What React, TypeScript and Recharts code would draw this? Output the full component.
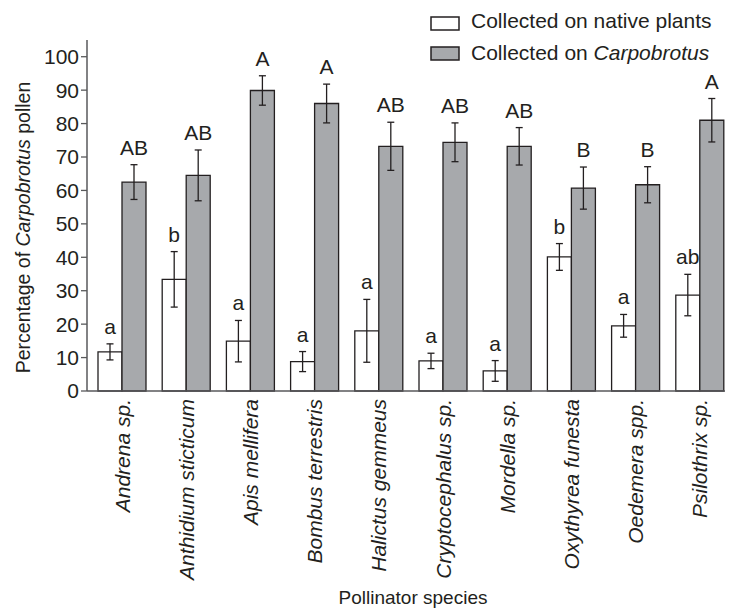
import { BarChart, Bar, XAxis, YAxis, ErrorBar, LabelList, Label } from 'recharts';

const species = [
  'Andrena sp.',
  'Anthidium sticticum',
  'Apis mellifera',
  'Bombus terrestris',
  'Halictus gemmeus',
  'Cryptocephalus sp.',
  'Mordella sp.',
  'Oxythyrea funesta',
  'Oedemera spp.',
  'Psilothrix sp.',
];
const nativeMean = [11.7, 33.4, 14.9, 8.8, 18.0, 9.0, 6.0, 40.1, 19.5, 28.7];
const nativeErr = [2.4, 8.3, 6.2, 3.0, 9.4, 2.3, 3.1, 4.0, 3.4, 6.2];
const nativeLetters = ['a', 'b', 'a', 'a', 'a', 'a', 'a', 'b', 'a', 'ab'];
const carpoMean = [62.5, 64.5, 89.9, 86.0, 73.2, 74.4, 73.2, 60.7, 61.7, 81.0];
const carpoErr = [5.2, 7.6, 4.4, 5.8, 7.2, 5.8, 5.6, 6.3, 5.4, 6.5];
const carpoLetters = ['AB', 'AB', 'A', 'A', 'AB', 'AB', 'AB', 'B', 'B', 'A'];
const yTicks = [0, 10, 20, 30, 40, 50, 60, 70, 80, 90, 100];

const data = species.map((name, i) => ({
  name,
  native: nativeMean[i],
  nativeErr: nativeErr[i],
  nativeLetter: nativeLetters[i],
  carpo: carpoMean[i],
  carpoErr: carpoErr[i],
  carpoLetter: carpoLetters[i],
}));

const ink = '#231f20';
const axisInk = '#58595b';
const grey = '#a7a9ac';
const font = 'Liberation Sans, Arial, Helvetica, sans-serif';

// letter sits just above the top of the error bar
const letterLabel = (means: number[], errs: number[]) => (props: any) => {
  const vb = props.viewBox || props;
  const { x, y, width, height } = vb;
  const i = props.index;
  const pxPerUnit = height / means[i];
  const top = y - errs[i] * pxPerUnit;
  return (
    <text x={x + width / 2} y={top - 10} textAnchor="middle" fontSize={21} fontFamily={font} fill={ink}>
      {props.value}
    </text>
  );
};

const SpeciesTick = (props: any) => {
  const { x, y, payload } = props;
  return (
    <g transform={`translate(${x},${y}) rotate(-90)`}>
      <text textAnchor="end" dy="0.36em" fontSize={21} fontStyle="italic" fontFamily={font} fill={ink}>
        {payload.value}
      </text>
    </g>
  );
};

// legend drawn as an overlay so it doesn't push the plot down
const LegendBox = () => (
  <svg width={746} height={70} style={{ position: 'absolute', left: 0, top: 0 }}>
    <rect x={431} y={17} width={28} height={13} fill="#fff" stroke={ink} strokeWidth={1.5} />
    <text x={471} y={28} fontSize={21} fontFamily={font} fill={ink}>Collected on native plants</text>
    <rect x={431} y={47} width={28} height={13} fill={grey} stroke={ink} strokeWidth={1.5} />
    <text x={471} y={60} fontSize={21} fontFamily={font} fill={ink}>
      Collected on <tspan fontStyle="italic">Carpobrotus</tspan>
    </text>
  </svg>
);

export default function App() {
  return (
    <div style={{ position: 'absolute', left: 0, top: 0, width: 746, height: 613 }}>
      <BarChart
        width={746}
        height={613}
        data={data}
        margin={{ top: 40, right: 21, left: 0, bottom: 0 }}
        barSize={24}
        barGap={0}
      >
        <XAxis
          dataKey="name"
          height={222}
          interval={0}
          padding={{ left: 3, right: -7 }}
          axisLine={{ stroke: axisInk, strokeWidth: 1.5 }}
          tickLine={false}
          tick={<SpeciesTick />}
        >
          <Label
            content={(p: any) => {
              const vb = p.viewBox;
              return (
                <text x={413} y={vb.y + vb.height - 9} textAnchor="middle" fontSize={19} fontFamily={font} fill={ink}>
                  Pollinator species
                </text>
              );
            }}
          />
        </XAxis>
        <YAxis
          width={87}
          domain={[0, 105]}
          ticks={yTicks}
          interval={0}
          axisLine={{ stroke: axisInk, strokeWidth: 1.5 }}
          tickLine={{ stroke: axisInk, strokeWidth: 1.3 }}
          tickSize={6}
          tick={{ fontSize: 21, fontFamily: font, fill: ink }}
        >
          <Label
            content={(p: any) => {
              const vb = p.viewBox;
              const cx = 23;
              const cy = vb.y + vb.height / 2 + 12;
              return (
                <text
                  x={cx}
                  y={cy}
                  transform={`rotate(-90, ${cx}, ${cy})`}
                  textAnchor="middle"
                  dominantBaseline="central"
                  fontSize={19.5}
                  fontFamily={font}
                  fill={ink}
                >
                  Percentage of <tspan fontStyle="italic">Carpobrotus</tspan> pollen
                </text>
              );
            }}
          />
        </YAxis>
        <Bar dataKey="native" fill="#fff" stroke={ink} strokeWidth={1.3} isAnimationActive={false}>
          <ErrorBar dataKey="nativeErr" width={3.5} stroke={ink} strokeWidth={1.3} isAnimationActive={false} />
          <LabelList dataKey="nativeLetter" content={letterLabel(nativeMean, nativeErr)} />
        </Bar>
        <Bar dataKey="carpo" fill={grey} stroke={ink} strokeWidth={1.3} isAnimationActive={false}>
          <ErrorBar dataKey="carpoErr" width={3.5} stroke={ink} strokeWidth={1.3} isAnimationActive={false} />
          <LabelList dataKey="carpoLetter" content={letterLabel(carpoMean, carpoErr)} />
        </Bar>
      </BarChart>
      <LegendBox />
    </div>
  );
}
